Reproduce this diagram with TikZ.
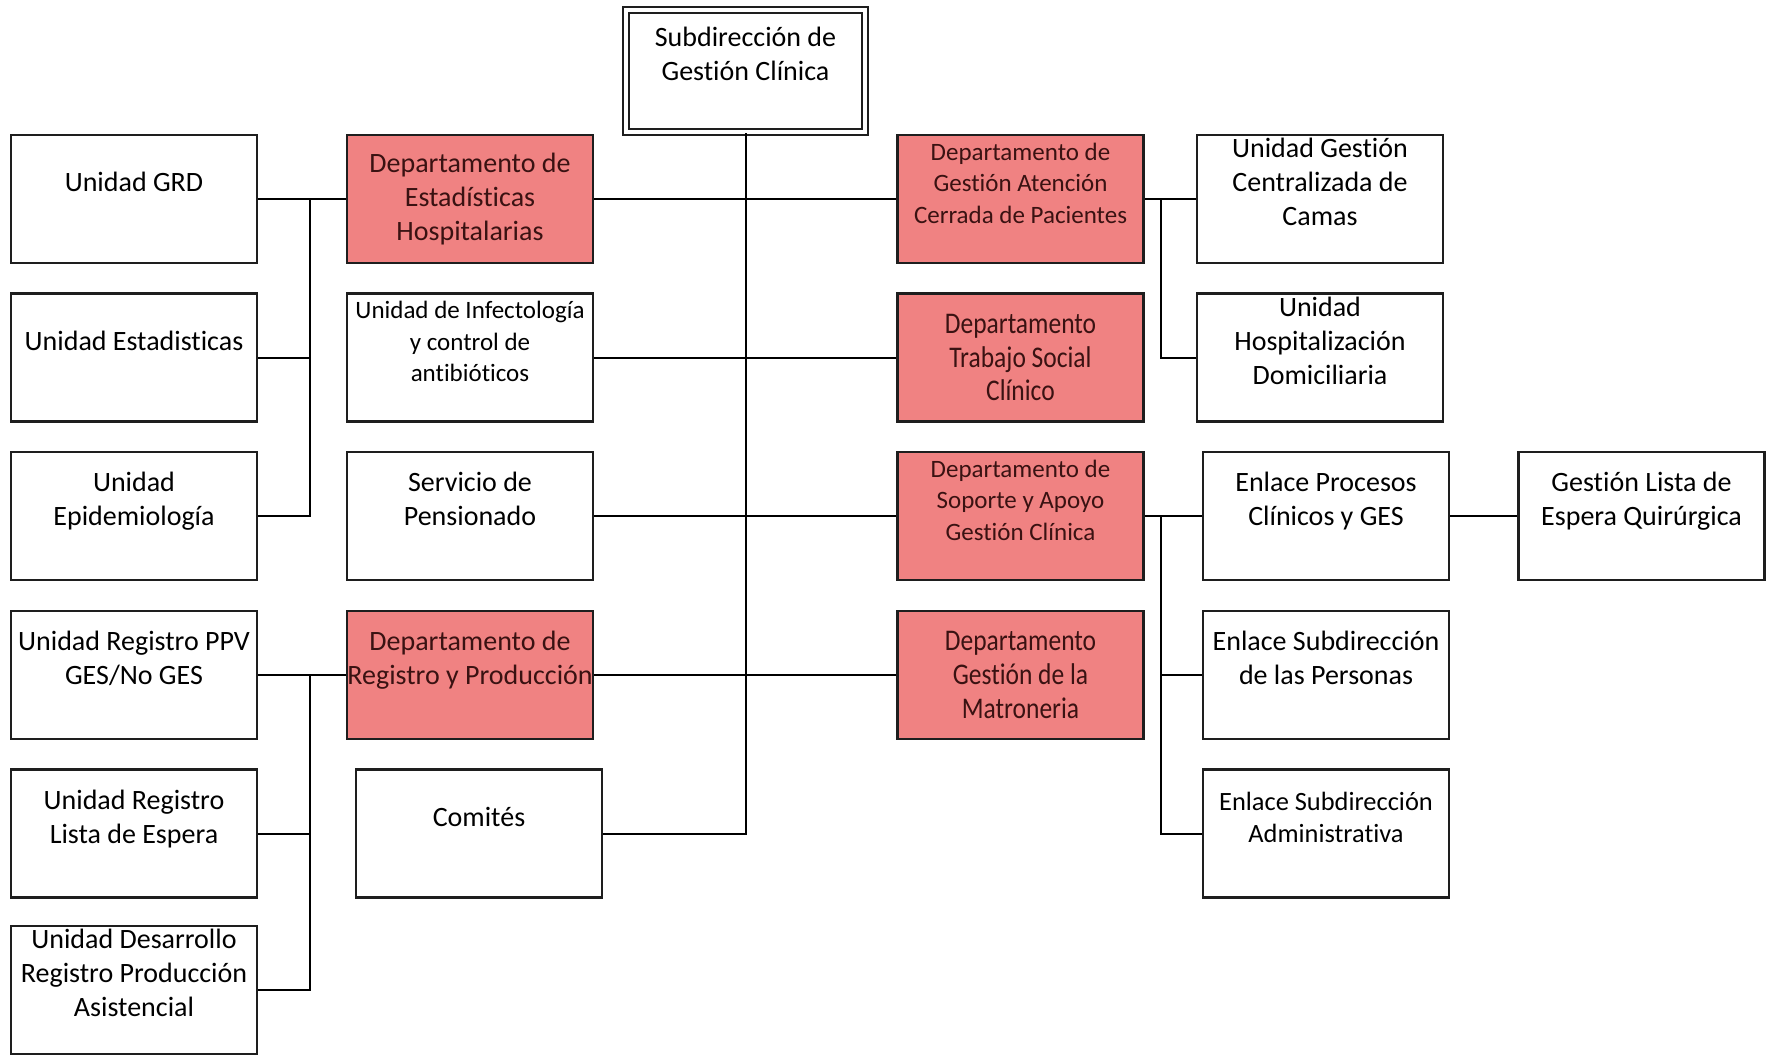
\documentclass[tikz,border=0pt]{standalone}
\usepackage{fontspec}
\setmainfont{Carlito}[Ligatures={NoCommon}]
\newfontfamily\narrowfam[FakeStretch=0.85,Ligatures={NoCommon}]{Carlito}
\newcommand\fsMain{\fontsize{14}{17}\selectfont}
\newcommand\fsSmall{\fontsize{12.5}{15.8}\selectfont}
\newcommand\fsMid{\fontsize{13.2}{16.2}\selectfont}
\newcommand\fsNarrow{\narrowfam\fontsize{15}{16.8}\selectfont}
\definecolor{deptred}{HTML}{F08282}
\definecolor{depttext}{HTML}{3A1212}
\definecolor{boxc}{HTML}{1E1E1E}
\begin{document}
\begin{tikzpicture}[x=0.5pt,y=-0.5pt,
  box/.style={draw=boxc, line width=1.3pt, fill=white, minimum width=123pt,
    minimum height=64pt, inner sep=0pt, align=center, font=\fsMain},
  dept/.style={box, fill=deptred, text=depttext},
  conn/.style={draw=black, line width=1pt}]
\useasboundingbox (0,0) rectangle (1767,1055);
\coordinate (jL) at (310,0);
\coordinate (jR) at (1161,0);
% top
\node[box, double, line width=1pt, double distance=2pt, minimum width=119.5pt,
  minimum height=61pt] (sub) at (745.5,71) {Subdirección de\\Gestión Clínica\\\mbox{}};
% column 1
\node[box] (grd) at (134,199) {Unidad GRD\\\mbox{}};
\node[box] (uest) at (134,357.5) {Unidad Estadisticas\\\mbox{}};
\node[box] (epid) at (134,516) {Unidad\\Epidemiología\\\mbox{}};
\node[box] (ppv) at (134,675) {Unidad Registro PPV\\GES/No GES\\\mbox{}};
\node[box] (ule) at (134,833.5) {Unidad Registro\\Lista de Espera\\\mbox{}};
\node[box] (udr) at (134,990) {Unidad Desarrollo\\Registro Producción\\Asistencial\\\mbox{}};
% column 2
\node[dept] (dest) at (470,199) {Departamento de\\Estadísticas\\Hospitalarias};
\node[box, font=\fsSmall] (inf) at (470,357.5) {Unidad de Infectología\\y control de\\antibióticos\\\mbox{}};
\node[box] (pen) at (470,516) {Servicio de\\Pensionado\\\mbox{}};
\node[dept] (drp) at (470,675) {Departamento de\\Registro y Producción\\\mbox{}};
\node[box] (com) at (479,833.5) {Comités\\\mbox{}};
% column 3
\node[dept, font=\fsSmall] (dga) at (1020.5,199) {Departamento de\\Gestión Atención\\Cerrada de Pacientes\\\mbox{}};
\node[dept, font=\fsNarrow] (dts) at (1020.5,357.5) {Departamento\\Trabajo Social\\Clínico};
\node[dept, font=\fsSmall] (dsa) at (1020.5,516) {Departamento de\\Soporte y Apoyo\\Gestión Clínica\\\mbox{}};
\node[dept, font=\fsNarrow] (dgm) at (1020.5,675) {Departamento\\Gestión de la\\Matroneria};
% column 4
\node[box] (ugc) at (1320,199) {Unidad Gestión\\Centralizada de\\Camas\\\mbox{}};
\node[box] (uhd) at (1320,357.5) {Unidad\\Hospitalización\\Domiciliaria\\\mbox{}};
\node[box] (epc) at (1326,516) {Enlace Procesos\\Clínicos y GES\\\mbox{}};
\node[box] (esp) at (1326,675) {Enlace Subdirección\\de las Personas\\\mbox{}};
\node[box, font=\fsMid] (esa) at (1326,833.5) {Enlace Subdirección\\Administrativa\\\mbox{}};
% column 5
\node[box] (gle) at (1641.5,516) {Gestión Lista de\\Espera Quirúrgica\\\mbox{}};
% connectors: left group 1
\draw[conn] (grd.east) -- (dest.west);
\draw[conn] (grd.east -| jL) |- (epid.east);
\draw[conn] (uest.east) -- (uest.east -| jL);
% left group 2
\draw[conn] (ppv.east) -- (drp.west);
\draw[conn] (ppv.east -| jL) |- (udr.east);
\draw[conn] (ule.east) -- (ule.east -| jL);
% centre
\draw[conn] (sub.south) |- (com.east);
\draw[conn] (dest.east) -- (dga.west);
\draw[conn] (inf.east) -- (dts.west);
\draw[conn] (pen.east) -- (dsa.west);
\draw[conn] (drp.east) -- (dgm.west);
% right group 1
\draw[conn] (dga.east) -- (ugc.west);
\draw[conn] (dga.east -| jR) |- (uhd.west);
% right group 2
\draw[conn] (dsa.east) -- (epc.west);
\draw[conn] (dsa.east -| jR) |- (esa.west);
\draw[conn] (esp.west) -- (esp.west -| jR);
\draw[conn] (epc.east) -- (gle.west);
\end{tikzpicture}
\end{document}
